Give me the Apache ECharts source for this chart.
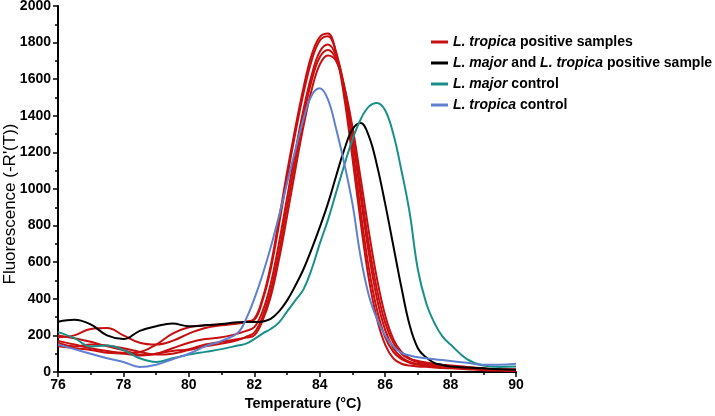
<!DOCTYPE html>
<html><head><meta charset="utf-8">
<script src="https://cdn.jsdelivr.net/npm/echarts@6/dist/echarts.min.js"></script>
<style>html,body{margin:0;padding:0;background:#fff}#c{width:715px;height:416px}</style>
</head><body><div id="c"></div>
<script>
const temps = [76,76.5,77,77.5,78,78.5,79,79.5,80,80.5,81,81.5,
  81.75,82,82.25,82.5,82.75,83,83.25,83.5,83.75,84,84.25,84.5,84.75,85,85.25,85.5,85.75,86,86.25,86.5,86.75,87,87.25,87.5,87.75,88,
  88.5,89,89.5,90];
const red1 = [190,200,235,240,200,160,150,170,210,240,255,265,
  275,290,400,580,830,1090,1330,1550,1730,1830,1850,1740,1500,1170,820,510,290,150,75,45,35,30,28,25,22,20,
  15,10,8,5];
const red2 = [170,150,130,115,105,110,150,210,245,255,260,268,
  275,285,390,560,800,1060,1300,1520,1700,1810,1835,1750,1540,1230,880,570,340,190,110,70,50,40,35,30,28,25,
  20,12,10,8];
const red3 = [200,185,165,140,120,95,100,130,160,180,190,210,
  225,245,330,480,700,950,1200,1430,1620,1750,1790,1730,1560,1290,960,650,400,230,130,80,55,45,40,35,30,28,
  22,15,12,10];
const red4 = [160,140,150,145,130,110,95,100,120,140,155,175,
  192,215,300,440,650,900,1150,1390,1590,1720,1760,1710,1550,1310,1000,700,450,270,160,100,70,55,48,40,35,30,
  25,18,14,12];
const red5 = [140,130,120,105,100,90,100,115,125,150,165,180,
  188,200,280,410,610,850,1100,1340,1540,1680,1730,1700,1560,1340,1060,770,510,310,180,110,75,60,52,45,40,35,
  28,20,15,15];
const black = [275,285,260,200,180,225,250,265,250,255,262,272,
  273,273,276,290,330,390,470,560,670,790,920,1070,1215,1325,1360,1290,1130,920,690,460,255,130,80,50,38,30,
  25,20,15,12];
const teal = [218,185,140,145,120,75,55,75,95,110,125,145,
  155,180,210,235,270,330,390,450,560,700,830,980,1130,1270,1380,1450,1470,1430,1300,1100,870,560,380,270,195,150,
  70,35,28,30];
const blue = [150,125,100,75,55,28,40,70,100,140,170,215,
  290,400,530,680,850,1030,1210,1380,1510,1550,1490,1330,1140,920,630,420,290,200,140,105,90,80,75,70,65,60,
  50,40,40,45];
const xTicks = [76,78,80,82,84,86,88,90];
const yTicks = [0,200,400,600,800,1000,1200,1400,1600,1800,2000];
const names = ['L. tropica positive samples','L. major and L. tropica positive sample','L. major control','L. tropica control'];
const legendRich = {
  'L. tropica positive samples':'{i|L. tropica} positive samples',
  'L. major and L. tropica positive sample':'{i|L. major} and {i|L. tropica} positive sample',
  'L. major control':'{i|L. major} control',
  'L. tropica control':'{i|L. tropica} control'
};
const RED='#c80f0f', BLACK='#000000', TEAL='#17908a', BLUE='#5f80cf';
const FONT='Liberation Sans, Arial, sans-serif';
function pairs(v){return temps.map((t,i)=>[t,v[i]]);}
function line(name,data,color){
  return {name:name,type:'line',data:pairs(data),smooth:0.4,symbol:'none',
    lineStyle:{color:color,width:2},itemStyle:{color:color}};
}
const chart = echarts.init(document.getElementById('c'),null,{renderer:'canvas'});
chart.setOption({
  animation:false,
  grid:{left:58,right:199,top:6,bottom:44,containLabel:false,outerBoundsMode:'none'},
  legend:{
    data:names, orient:'vertical', left:426, top:30, itemGap:7,
    icon:'rect', itemWidth:17, itemHeight:3,
    formatter:n=>legendRich[n],
    textStyle:{fontFamily:FONT,fontSize:14,fontWeight:'bold',color:'#000',
      rich:{i:{fontFamily:FONT,fontSize:14,fontWeight:'bold',fontStyle:'italic',color:'#000'}}}
  },
  xAxis:{type:'value',min:76,max:90,interval:2,
    name:'Temperature (°C)',nameLocation:'middle',nameGap:24,nameMoveOverlap:false,
    nameTextStyle:{fontFamily:FONT,fontSize:14.5,fontWeight:'bold',color:'#000',padding:[0,0,0,32]},
    axisLine:{lineStyle:{color:'#000',width:2}},
    axisTick:{length:5,lineStyle:{color:'#000',width:1.5}},
    minorTick:{show:true,splitNumber:2,length:3,lineStyle:{color:'#000',width:1.5}},
    splitLine:{show:false},
    axisLabel:{fontFamily:FONT,fontSize:14,fontWeight:'bold',color:'#000',margin:6,
      formatter:v=>xTicks.includes(v)?String(v):''}
  },
  yAxis:{type:'value',min:0,max:2000,interval:200,
    name:"Fluorescence (-R'(T))",nameLocation:'middle',nameGap:39,nameMoveOverlap:false,
    nameTextStyle:{fontFamily:FONT,fontSize:17,color:'#000',padding:[0,30,0,0]},
    axisLine:{show:true,lineStyle:{color:'#000',width:2}},
    axisTick:{show:true,length:5,lineStyle:{color:'#000',width:1.5}},
    minorTick:{show:true,splitNumber:2,length:3,lineStyle:{color:'#000',width:1.5}},
    splitLine:{show:false},
    axisLabel:{fontFamily:FONT,fontSize:14,fontWeight:'bold',color:'#000',margin:7,
      formatter:v=>yTicks.includes(v)?String(v):''}
  },
  series:[
    line(names[0],red1,RED),line(names[0],red2,RED),line(names[0],red3,RED),
    line(names[0],red4,RED),line(names[0],red5,RED),
    line(names[1],black,BLACK),line(names[2],teal,TEAL),line(names[3],blue,BLUE)
  ]
});
</script></body></html>
